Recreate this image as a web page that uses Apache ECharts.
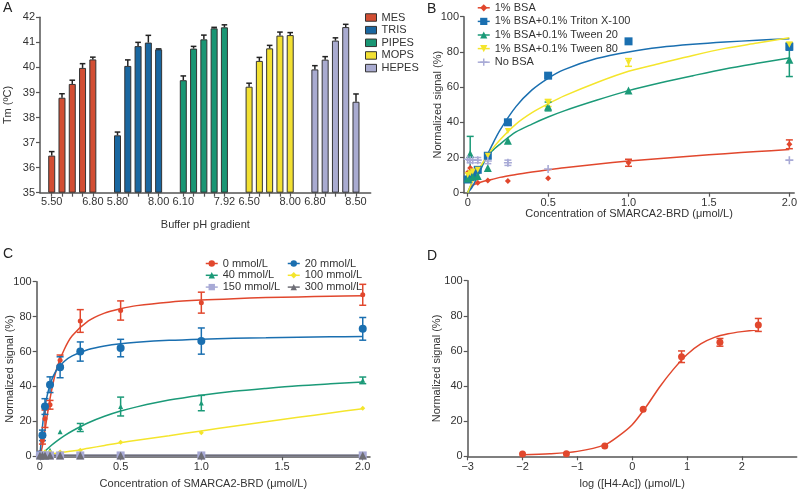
<!DOCTYPE html>
<html>
<head>
<meta charset="utf-8">
<script src="https://cdn.jsdelivr.net/npm/echarts@6/dist/echarts.min.js"></script>
<style>html,body{margin:0;padding:0;background:#fff}#c{width:800px;height:491px}</style>
</head>
<body>
<div id="c"></div>
<script>
// ---------------- Panel A data ----------------
const bufferNames = ['MES', 'TRIS', 'PIPES', 'MOPS', 'HEPES'];
const phStartLabels = ['5.50', '5.80', '6.10', '6.50', '6.80'];
const phEndLabels = ['6.80', '8.00', '7.92', '8.00', '8.50'];
const tmMES = [36.48, 38.79, 39.34, 39.98, 40.32];
const tmTRIS = [37.29, 40.06, 40.85, 40.99, 40.72];
const tmPIPES = [39.49, 40.75, 41.12, 41.56, 41.60];
const tmMOPS = [39.23, 40.26, 40.76, 41.27, 41.29];
const tmHEPES = [39.92, 40.31, 41.07, 41.61, 38.63];
const errMES = [0.16, 0.16, 0.15, 0.17, 0.09];
const errTRIS = [0.13, 0.24, 0.15, 0.29, 0.02];
const errPIPES = [0.17, 0.09, 0.17, 0.04, 0.10];
const errMOPS = [0.14, 0.14, 0.12, 0.14, 0.10];
const errHEPES = [0.15, 0.12, 0.11, 0.11, 0.31];

// ---------------- Panel B data ----------------
const bNames = ['1% BSA', '1% BSA+0.1% Triton X-100', '1% BSA+0.1% Tween 20', '1% BSA+0.1% Tween 80', 'No BSA'];
const concB = [0, 0.0156, 0.03125, 0.0625, 0.125, 0.25, 0.5, 1, 2];
const bBSA = [11.5, 14, null, 5.7, 7, 6.6, 8.2, 17, 27.5];
const bBSAErr = [0, 0, 0, 0, 0, 0, 0, 2, 2.5];
const bTriton = [7.5, 9, 10, 13, 21, 40, 66.5, 86, 83];
const bTritonErr = [0, 0, 0, 0, 0, 0, 0, 0, 2];
const bTw20 = [8, 22, 9, 9.5, 14, 29.5, 49, 58, 75.5];
const bTw20Err = [0, 10, 0, 0, 0, 0, 2.5, 0, 9.5];
const bTw80 = [10, 11, 12, 13, 21, 35, 51, 74, 84];
const bTw80Err = [0, 0, 0, 0, 0, 0, 2, 2.2, 1.5];
const bNoBSA = [19, 18.5, 18.5, 18.5, 18, 17, 13.5, null, 18.5];
const bNoBSAErr = [0, 1.5, 0, 1.5, 1.5, 1.5, 0, 0, 0];
// fitted curves
const fitXB = [0, 0.025, 0.05, 0.1, 0.15, 0.2, 0.3, 0.4, 0.5, 0.6, 0.8, 1.0, 1.2, 1.4, 1.6, 1.8, 2.0];
const fitBSA = [0, 3.8, 5, 6.5, 7.5, 8.7, 10.3, 11.7, 13, 14.2, 16.2, 18, 19.5, 20.9, 22.2, 23.4, 24.5];
const fitTriton = [0, 2.8, 7, 17, 26.7, 35.4, 48.9, 58.4, 65, 69.9, 76.2, 80, 82.6, 84.3, 85.6, 86.6, 87.5];
const fitTw20 = [0, 5.5, 10, 17.5, 23.5, 27.5, 34.5, 39, 43, 46.5, 52.5, 58, 62.5, 66.5, 70.3, 73.5, 76.5];
const fitTw80 = [0, 5.5, 10, 18, 24.5, 30, 39, 45.5, 50.5, 55, 62.5, 69, 73.5, 78, 82, 85, 88];

// ---------------- Panel C data ----------------
const cNames = ['0 mmol/L', '20 mmol/L', '40 mmol/L', '100 mmol/L', '150 mmol/L', '300 mmol/L'];
const concC = [0, 0.0156, 0.03125, 0.0625, 0.125, 0.25, 0.5, 1, 2];
const c0 = [2, 9, 21.5, 29.5, 55, 77.5, 83.5, 88, 92.5];
const c0Err = [0, 2, 5, 2.5, 3, 6.5, 5.5, 6, 6];
const c20 = [1, 12, 28.5, 41, 51, 60, 62, 66, 73];
const c20Err = [0, 3, 4.5, 4.5, 6, 5.5, 5, 7.5, 6.5];
const c40 = [1, 1.5, 2.5, 3.5, 14, 16.5, 28.5, 30.5, 43.5];
const c40Err = [0, 0, 0, 0, 0, 2.3, 5.4, 4.4, 1.9];
const c100 = [1, 2, 2.5, 2.5, 2.5, 3.5, 8, 13.5, 27.5];
const c100Err = [0, 0, 0, 0, 0, 0, 0, 0, 0];
const c150 = [0.5, 0.5, 0.5, 0.5, 0.5, 0.5, 0.5, 0.5, 0.5];
const c300 = [0.5, 0.5, 0.5, 0.5, 0.5, 0.5, 0.5, 0.5, 0.5];
const fitXC = [0, 0.0156, 0.03125, 0.0625, 0.1, 0.15, 0.2, 0.3, 0.4, 0.5, 0.6, 0.8, 1.0, 1.2, 1.4, 1.6, 1.8, 2.0];
const fit0 = [0, 6, 15, 33, 49, 61, 69, 77.5, 82, 84.5, 86.3, 88.3, 89.5, 90.3, 90.9, 91.3, 91.7, 92];
const fit20 = [0, 17, 28.5, 41, 49, 54.3, 57.5, 61.2, 63.2, 64.5, 65.3, 66.4, 67.1, 67.6, 67.9, 68.2, 68.4, 68.6];
const fit40 = [0, 1.5, 2.9, 5.6, 8.4, 11.7, 14.5, 19.2, 22.9, 25.9, 28.3, 32.2, 35, 37.2, 38.9, 40.4, 41.5, 42.5];
const fit100 = [0.8, 0.9, 1, 1.3, 1.8, 2.4, 3, 4.6, 6.2, 7.8, 9.2, 11.8, 14.5, 17.2, 19.8, 22.3, 24.8, 27.3];
const fit150 = [0.5, 0.5, 0.5, 0.5, 0.5, 0.5, 0.5, 0.5, 0.5, 0.5, 0.5, 0.5, 0.5, 0.5, 0.5, 0.5, 0.5, 0.5];
const fit300 = [0.5, 0.5, 0.5, 0.5, 0.5, 0.5, 0.5, 0.5, 0.5, 0.5, 0.5, 0.5, 0.5, 0.5, 0.5, 0.5, 0.5, 0.5];

// ---------------- Panel D data ----------------
const logH4 = [-2, -1.2, -0.5, 0.2, 0.9, 1.6, 2.3];
const sigD = [1.3, 1.5, 5.9, 26.8, 56.7, 64.9, 74.8];
const sigDErr = [0, 0, 0, 0, 3.3, 2.2, 3.7];
const fitXD = [-2, -1.5, -1, -0.5, -0.25, 0, 0.25, 0.5, 0.75, 1, 1.25, 1.5, 1.75, 2, 2.3];
const fitD = [0.9, 1.4, 2.8, 6.5, 11.5, 18, 28, 39.5, 49.5, 58, 64, 67.7, 69.8, 71, 72];

// ---------------- styles ----------------
const FONT = '"Liberation Sans", Arial, sans-serif';
const TXT = '#333';
const AX = '#555';
const FS = 11;
const aColors = ['#d24e33', '#1a67a0', '#1a9674', '#f2e032', '#a9abd0'];
const bColors = ['#e1472d', '#1a6fb0', '#1b9a78', '#f4e52c', '#a8aad6'];
const cColors = ['#e1472d', '#1a6fb0', '#1b9a78', '#f4e52c', '#a8aad6', '#6e6e76'];
const PLUS = 'path://M4 0h2v4h4v2H6v4H4V6H0V4h4z';

function axisBase(extra) {
  return Object.assign({
    axisLine: { show: true, onZero: false, lineStyle: { color: AX, width: 1.5 } },
    axisTick: { show: true, length: 4, lineStyle: { color: AX, width: 1.2 } },
    axisLabel: { color: TXT, fontSize: FS, fontFamily: FONT, margin: 5 },
    splitLine: { show: false },
    nameTextStyle: { color: TXT, fontSize: FS, fontFamily: FONT },
    nameLocation: 'middle',
    nameMoveOverlap: false
  }, extra);
}

function errSeries(xi, yi, xs, ys, errs, color, cap, upperOnly) {
  const data = [];
  xs.forEach((x, i) => { if (ys[i] != null && errs[i] > 0) data.push([x, ys[i], errs[i]]); });
  return {
    type: 'custom', xAxisIndex: xi, yAxisIndex: yi, silent: true, z: 4,
    encode: { x: 0, y: 1 },
    data,
    renderItem: (params, api) => {
      const x = api.value(0), y = api.value(1), e = api.value(2);
      const hi = api.coord([x, y + e]);
      const lo = api.coord([x, upperOnly ? y : y - e]);
      const st = { stroke: color, lineWidth: 1.5 };
      const ch = [
        { type: 'line', shape: { x1: hi[0], y1: hi[1], x2: lo[0], y2: lo[1] }, style: st },
        { type: 'line', shape: { x1: hi[0] - cap, y1: hi[1], x2: hi[0] + cap, y2: hi[1] }, style: st }
      ];
      if (!upperOnly) ch.push({ type: 'line', shape: { x1: lo[0] - cap, y1: lo[1], x2: lo[0] + cap, y2: lo[1] }, style: st });
      return { type: 'group', children: ch };
    }
  };
}

function pointSeries(name, xi, yi, xs, ys, color, symbol, size, rot) {
  const data = [];
  xs.forEach((x, i) => { if (ys[i] != null) data.push([x, ys[i]]); });
  return {
    type: 'line', name, xAxisIndex: xi, yAxisIndex: yi, data, z: 5,
    symbol, symbolSize: size, symbolRotate: rot || 0, showSymbol: true,
    lineStyle: { width: 0, opacity: 0, color },
    itemStyle: { color, borderWidth: 0 },
    animation: false
  };
}

function fitSeries(xi, yi, xs, ys, color, width) {
  return {
    type: 'line', xAxisIndex: xi, yAxisIndex: yi, data: xs.map((x, i) => [x, ys[i]]),
    showSymbol: false, symbol: 'none', smooth: 0.3, z: 3, silent: true,
    lineStyle: { color, width: width || 1.5 }, animation: false
  };
}

// ---------------- Panel A layout of bars ----------------
const GROUP_SPAN = 6.4;
const tmAll = [tmMES, tmTRIS, tmPIPES, tmMOPS, tmHEPES];
const errAll = [errMES, errTRIS, errPIPES, errMOPS, errHEPES];
const barPos = (g, j) => g * GROUP_SPAN + j;
const tickPosA = [];
const labelPosA = {};
tmAll.forEach((vals, g) => vals.forEach((v, j) => {
  const p = barPos(g, j);
  tickPosA.push(p);
  if (j === 0) labelPosA[p.toFixed(2)] = phStartLabels[g];
  if (j === vals.length - 1) labelPosA[p.toFixed(2)] = phEndLabels[g];
}));

const series = [];
tmAll.forEach((vals, g) => {
  series.push({
    type: 'bar', name: bufferNames[g], xAxisIndex: 0, yAxisIndex: 0,
    barWidth: 7, barGap: '-100%',
    data: vals.map((v, j) => [barPos(g, j), v]),
    itemStyle: { color: aColors[g], borderColor: '#333', borderWidth: 1 },
    animation: false
  });
  series.push(errSeries(0, 0, vals.map((v, j) => barPos(g, j)), vals, errAll[g], '#222', 2.8, true));
});

// Panel B
const bVals = [bBSA, bTriton, bTw20, bTw80, bNoBSA];
const bErrs = [bBSAErr, bTritonErr, bTw20Err, bTw80Err, bNoBSAErr];
const bSym = [['diamond', 6, 0], ['rect', 8, 0], ['triangle', 8, 0], ['triangle', 6, 180], [PLUS, 8, 0]];
const bFits = [fitBSA, fitTriton, fitTw20, fitTw80];
bFits.forEach((f, i) => series.push(fitSeries(1, 1, fitXB, f, bColors[i])));
bVals.forEach((v, i) => {
  series.push(errSeries(1, 1, concB, v, bErrs[i], bColors[i], 3.5, false));
  series.push(pointSeries(bNames[i], 1, 1, concB, v, bColors[i], bSym[i][0], bSym[i][1], bSym[i][2]));
});

// Panel C
const cVals = [c0, c20, c40, c100, c150, c300];
const cErrs = [c0Err, c20Err, c40Err, c100Err, c150.map(() => 0), c300.map(() => 0)];
const cSym = [['circle', 5], ['circle', 8], ['triangle', 5], ['diamond', 5], ['rect', 8], ['triangle', 8]];
const cFits = [fit0, fit20, fit40, fit100, fit150, fit300];
cFits.forEach((f, i) => series.push(fitSeries(2, 2, fitXC, f, cColors[i], i >= 4 ? 2 : 1.5)));
cVals.forEach((v, i) => {
  series.push(errSeries(2, 2, concC, v, cErrs[i], cColors[i], 3.5, false));
  series.push(pointSeries(cNames[i], 2, 2, concC, v, cColors[i], cSym[i][0], cSym[i][1], 0));
});

// Panel D
series.push(fitSeries(3, 3, fitXD, fitD, '#e1472d'));
series.push(errSeries(3, 3, logH4, sigD, sigDErr, '#e1472d', 3.5, false));
series.push(pointSeries('H4-Ac', 3, 3, logH4, sigD, '#e1472d', 'circle', 7, 0));

const concTicks = [0, 0.5, 1, 1.5, 2];
const concFmt = v => (v === 0 ? '0' : v.toFixed(1));

const legendText = { color: TXT, fontSize: FS, fontFamily: FONT, lineHeight: 11 };
const lineLegendStyle = { width: 1.5, opacity: 1, type: 'solid' };

const option = {
  animation: false,
  backgroundColor: '#fff',
  textStyle: { fontFamily: FONT },
  grid: [
    { left: 40, top: 17.3, width: 330.7, height: 175.4 },
    { left: 464, top: 16.7, width: 331, height: 176 },
    { left: 36.7, top: 281.7, width: 333.3, height: 174.6 },
    { left: 467.7, top: 280.7, width: 329, height: 175.6 }
  ],
  xAxis: [
    axisBase({
      gridIndex: 0, type: 'value', min: -1.14, max: 31.03,
      name: 'Buffer pH gradient', nameGap: 26.5,
      axisTick: { show: true, length: 4, customValues: tickPosA, lineStyle: { color: AX, width: 1.2 } },
      axisLabel: { color: TXT, fontSize: FS, fontFamily: FONT, margin: 4,
        customValues: Object.keys(labelPosA).map(Number),
        formatter: v => labelPosA[Number(v).toFixed(2)] || '' }
    }),
    axisBase({
      gridIndex: 1, type: 'value', min: -0.023, max: 2.03,
      name: 'Concentration of SMARCA2-BRD (\u03bcmol/L)', nameGap: 16,
      axisTick: { show: true, length: 4, customValues: concTicks, lineStyle: { color: AX, width: 1.2 } },
      axisLabel: { color: TXT, fontSize: FS, fontFamily: FONT, margin: 5, customValues: concTicks, formatter: concFmt }
    }),
    axisBase({
      gridIndex: 2, type: 'value', min: -0.02, max: 2.045,
      name: 'Concentration of SMARCA2-BRD (\u03bcmol/L)', nameGap: 22,
      axisTick: { show: true, length: 4, customValues: concTicks, lineStyle: { color: AX, width: 1.2 } },
      axisLabel: { color: TXT, fontSize: FS, fontFamily: FONT, margin: 5, customValues: concTicks, formatter: concFmt }
    }),
    axisBase({
      gridIndex: 3, type: 'value', min: -3, max: 3, interval: 1,
      name: 'log ([H4-Ac]) (\u03bcmol/L)', nameGap: 22,
      axisTick: { show: true, length: 4, customValues: [-3, -2, -1, 0, 1, 2], lineStyle: { color: AX, width: 1.2 } },
      axisLabel: { color: TXT, fontSize: FS, fontFamily: FONT, margin: 5,
        formatter: v => (v === 3 ? '' : (v < 0 ? '\u2212' + Math.abs(v) : String(v))) }
    })
  ],
  yAxis: [
    axisBase({ gridIndex: 0, type: 'value', min: 35, max: 42, interval: 1, startValue: 35,
      name: 'Tm (\u00baC)', nameGap: 26.5 }),
    axisBase({ gridIndex: 1, type: 'value', min: 0, max: 100, interval: 20,
      name: 'Normalized signal (%)', nameGap: 21 }),
    axisBase({ gridIndex: 2, type: 'value', min: 0, max: 100, interval: 20,
      name: 'Normalized signal (%)', nameGap: 21.5 }),
    axisBase({ gridIndex: 3, type: 'value', min: 0, max: 100, interval: 20,
      name: 'Normalized signal (%)', nameGap: 25 })
  ],
  legend: [
    { data: bufferNames, orient: 'vertical', left: 365, top: 12, padding: 0, icon: 'rect',
      itemWidth: 11, itemHeight: 7.5, itemGap: 1.65, textStyle: legendText,
      itemStyle: { borderColor: '#333', borderWidth: 1 }, selectedMode: false },
    { data: bNames, orient: 'vertical', left: 477, top: 2.3, padding: 0,
      itemWidth: 12, itemHeight: 9, itemGap: 2.6, textStyle: legendText,
      lineStyle: lineLegendStyle, selectedMode: false },
    { data: [cNames[0], cNames[2], cNames[4]], orient: 'vertical', left: 205, top: 258, padding: 0,
      itemWidth: 12, itemHeight: 8, itemGap: 0.8, textStyle: legendText,
      lineStyle: lineLegendStyle, selectedMode: false },
    { data: [cNames[1], cNames[3], cNames[5]], orient: 'vertical', left: 287, top: 258, padding: 0,
      itemWidth: 12, itemHeight: 8, itemGap: 0.8, textStyle: legendText,
      lineStyle: lineLegendStyle, selectedMode: false }
  ],
  graphic: [
    { type: 'text', left: 3, top: 1, style: { text: 'A', fontSize: 14, fontFamily: FONT, fill: '#222' } },
    { type: 'text', left: 427, top: 2, style: { text: 'B', fontSize: 14, fontFamily: FONT, fill: '#222' } },
    { type: 'text', left: 3, top: 247, style: { text: 'C', fontSize: 14, fontFamily: FONT, fill: '#222' } },
    { type: 'text', left: 427, top: 249, style: { text: 'D', fontSize: 14, fontFamily: FONT, fill: '#222' } }
  ],
  series
};

const chart = echarts.init(document.getElementById('c'), null, { renderer: 'canvas' });
chart.setOption(option);
</script>
</body>
</html>
